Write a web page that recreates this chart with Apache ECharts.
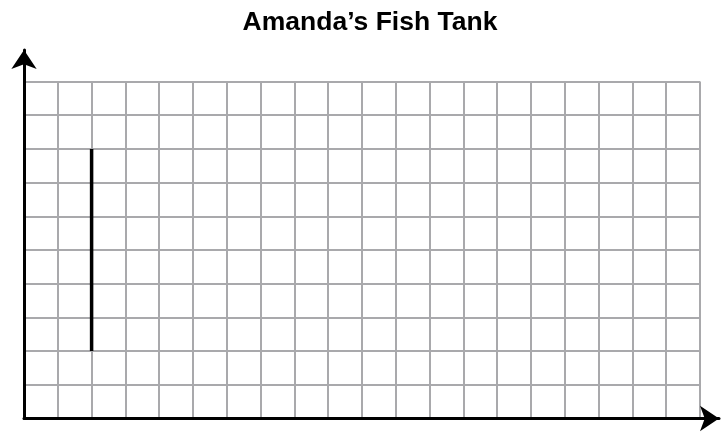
<!DOCTYPE html>
<html><head><meta charset="utf-8">
<script src="https://cdn.jsdelivr.net/npm/echarts@6/dist/echarts.min.js"></script>
<style>html,body{margin:0;padding:0;background:#fff}#c{width:727px;height:443px}</style>
</head><body><div id="c"></div>
<script>
const titleText = "Amanda’s Fish Tank";
const xRange = [0, 20];
const yRange = [0, 10];
const segmentX = [2, 2];
const segmentY = [2, 8];

const chart = echarts.init(document.getElementById('c'), null, {renderer: 'canvas'});
const segment = segmentX.map((x, i) => [x, segmentY[i]]);
chart.setOption({
  animation: false,
  backgroundColor: '#fff',
  title: {
    text: titleText, left: 365, top: 4, textAlign: 'center',
    textStyle: {fontFamily: 'Liberation Sans, Arial, sans-serif', fontWeight: 'bold', fontSize: 26.5, color: '#000'}
  },
  grid: [
    {left: 24, right: 27, top: 81.5, bottom: 24.5},
    {left: 24, right: 8, top: 50, bottom: 24.5}
  ],
  xAxis: [
    {type: 'value', gridIndex: 0, min: xRange[0], max: xRange[1], interval: 1,
     axisLine: {show: false}, axisTick: {show: false}, axisLabel: {show: false},
     splitLine: {show: true, lineStyle: {color: '#a9a9ac', width: 2}}},
    {type: 'value', gridIndex: 1, min: 0, max: 1,
     axisLine: {show: true, onZero: false, lineStyle: {color: '#000', width: 3},
       symbol: ['none', 'arrow'], symbolSize: [19, 19]},
     axisTick: {show: false}, axisLabel: {show: false}, splitLine: {show: false}}
  ],
  yAxis: [
    {type: 'value', gridIndex: 0, min: yRange[0], max: yRange[1], interval: 1,
     axisLine: {show: false}, axisTick: {show: false}, axisLabel: {show: false},
     splitLine: {show: true, lineStyle: {color: '#a9a9ac', width: 2}}},
    {type: 'value', gridIndex: 1, min: 0, max: 1,
     axisLine: {show: true, onZero: false, lineStyle: {color: '#000', width: 3},
       symbol: ['none', 'arrow'], symbolSize: [19, 19]},
     axisTick: {show: false}, axisLabel: {show: false}, splitLine: {show: false}}
  ],
  series: [{
    type: 'line', xAxisIndex: 0, yAxisIndex: 0, data: segment,
    showSymbol: false, symbol: 'none',
    lineStyle: {color: '#000', width: 3.5}, z: 5
  }]
});
</script></body></html>
